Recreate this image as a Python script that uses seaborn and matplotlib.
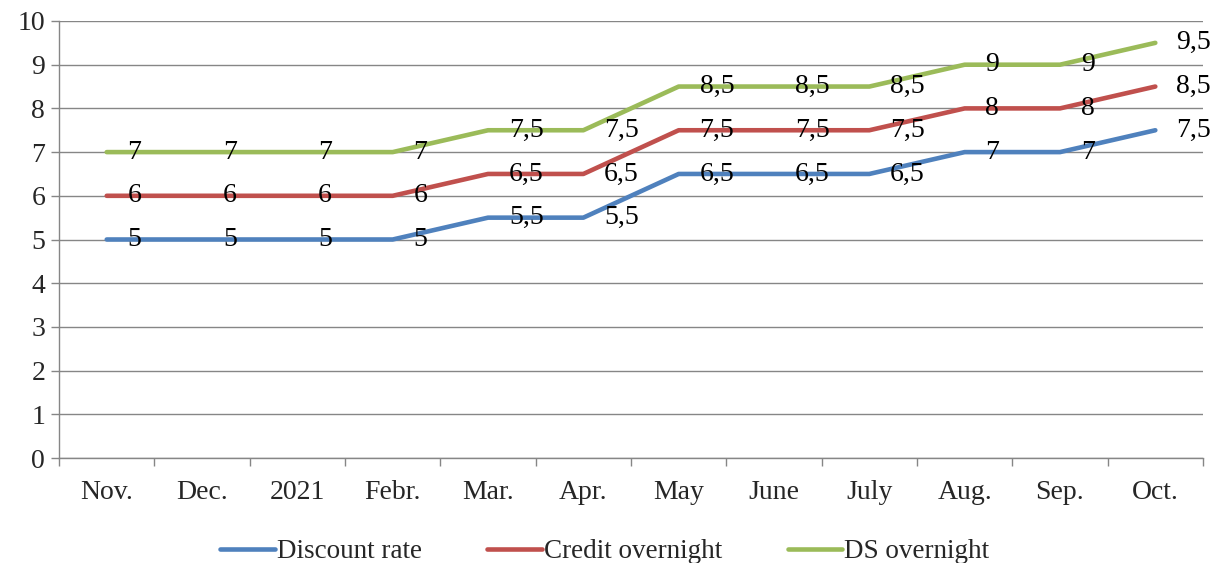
import numpy as np
import pandas as pd
import matplotlib
matplotlib.use("Agg")
import matplotlib.pyplot as plt
import seaborn as sns

months = ["Nov.", "Dec.", "2021", "Febr.", "Mar.", "Apr.", "May", "June", "July", "Aug.", "Sep.", "Oct."]
discount_rate = [5, 5, 5, 5, 5.5, 5.5, 6.5, 6.5, 6.5, 7, 7, 7.5]
credit_overnight = [6, 6, 6, 6, 6.5, 6.5, 7.5, 7.5, 7.5, 8, 8, 8.5]
ds_overnight = [7, 7, 7, 7, 7.5, 7.5, 8.5, 8.5, 8.5, 9, 9, 9.5]

series_names = ["Discount rate", "Credit overnight", "DS overnight"]
colors = ["#4F81BD", "#C0504D", "#9BBB59"]

sns.set_theme(style="white")
plt.rcParams["font.family"] = ["Liberation Serif", "DejaVu Serif"]

df = pd.DataFrame({
    "pos": list(range(len(months))) * 3,
    "value": discount_rate + credit_overnight + ds_overnight,
    "series": [n for n in series_names for _ in months],
})

fig = plt.figure(figsize=(12.1, 5.63), dpi=100)
ax = fig.add_axes([0.0488, 0.1865, 0.9454, 0.7762])

sns.lineplot(data=df, x="pos", y="value", hue="series", hue_order=series_names,
             palette=colors, linewidth=3.3, sort=False, ax=ax, legend=True)
for line in ax.get_lines():
    line.set_solid_capstyle("round")

fs = 20
for vals in [discount_rate, credit_overnight, ds_overnight]:
    for i, v in enumerate(vals):
        lab = f"{v:g}".replace(".", ",")
        ax.annotate(lab, (i, v), xytext=(15, 0), textcoords="offset points",
                    ha="left", va="center", fontsize=fs, color="black")

ax.set_xlim(-0.5, len(months) - 0.5)
ax.set_ylim(0, 10)
ax.set_yticks(range(0, 11))
ax.set_xticks(range(len(months)))
ax.set_xticklabels(months)
ax.set_xticks(np.arange(-0.5, len(months), 1), minor=True)
ax.tick_params(axis="x", which="major", length=0, pad=16, labelsize=fs)
ax.tick_params(axis="x", which="minor", length=6, width=1, color="#868686", direction="out", bottom=True)
ax.tick_params(axis="y", length=6, width=1, color="#868686", direction="out", left=True, labelsize=fs, pad=4)
ax.set_xlabel("")
ax.set_ylabel("")
ax.grid(axis="y", color="#868686", linewidth=1)
ax.set_axisbelow(True)
for side in ["top", "right"]:
    ax.spines[side].set_visible(False)
for side in ["left", "bottom"]:
    ax.spines[side].set_color("#868686")
    ax.spines[side].set_linewidth(1)

handles, labels = ax.get_legend_handles_labels()
ax.get_legend().remove()
fig.legend(handles, labels, loc="center", bbox_to_anchor=(0.5, 0.02), ncol=3,
           frameon=False, fontsize=19.5, handlelength=2.0, handletextpad=0.1,
           columnspacing=2.4, borderaxespad=0)

fig.savefig("out.png", dpi=100)
